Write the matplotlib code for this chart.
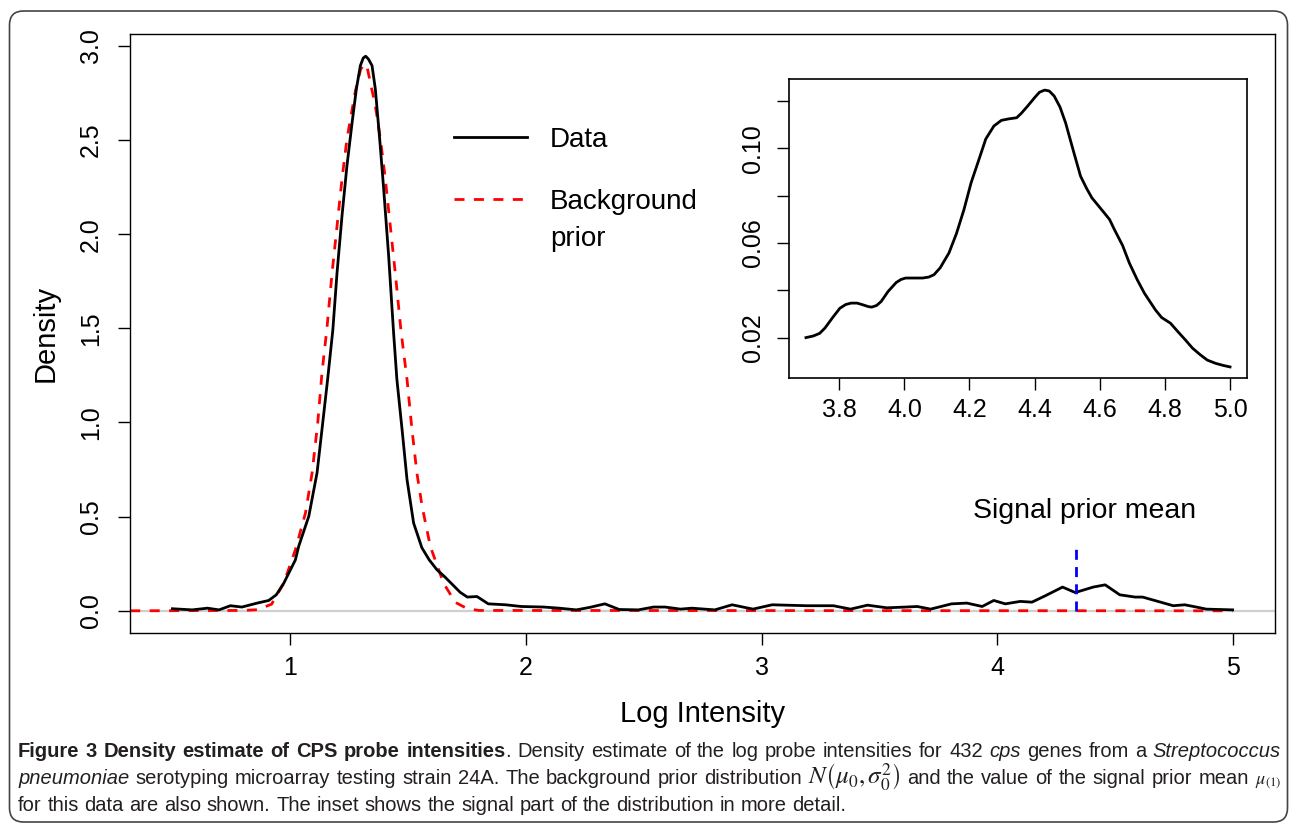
import numpy as np
import matplotlib
matplotlib.use('Agg')
import matplotlib.pyplot as plt
from matplotlib.patches import FancyBboxPatch
from matplotlib.transforms import IdentityTransform

plt.rcParams['font.family'] = ['Liberation Sans', 'DejaVu Sans']
plt.rcParams['mathtext.fontset'] = 'stix'

# kernel density of log probe intensities
dens_x = [0.499, 0.583, 0.648, 0.697, 0.745, 0.794, 0.859, 0.908, 0.940, 0.972,
          0.989, 1.021, 1.035, 1.078, 1.113, 1.134, 1.158, 1.180, 1.198, 1.219,
          1.240, 1.262, 1.280, 1.297, 1.309, 1.3195, 1.331, 1.3465, 1.3605, 1.379,
          1.396, 1.417, 1.438, 1.452, 1.474, 1.495, 1.523, 1.558, 1.589, 1.622,
          1.654, 1.721, 1.751, 1.792, 1.840, 1.914, 1.979, 2.076, 2.141, 2.214,
          2.270, 2.335, 2.396, 2.477, 2.542, 2.591, 2.656, 2.704, 2.802, 2.875,
          2.964, 3.045, 3.191, 3.305, 3.378, 3.450, 3.532, 3.613, 3.661, 3.718,
          3.807, 3.872, 3.937, 3.986, 4.035, 4.099, 4.148, 4.205, 4.278, 4.332,
          4.408, 4.459, 4.521, 4.586, 4.618, 4.683, 4.748, 4.797, 4.854, 4.888,
          5.000]
dens_y = [0.011, 0.005, 0.014, 0.005, 0.027, 0.020, 0.041, 0.055, 0.085, 0.147,
          0.190, 0.270, 0.342, 0.502, 0.732, 0.963, 1.229, 1.490, 1.796, 2.097,
          2.363, 2.594, 2.771, 2.895, 2.935, 2.945, 2.930, 2.895, 2.771, 2.505,
          2.239, 1.885, 1.477, 1.229, 0.963, 0.697, 0.466, 0.335, 0.271, 0.218,
          0.182, 0.098, 0.073, 0.076, 0.037, 0.032, 0.023, 0.020, 0.014, 0.005,
          0.018, 0.037, 0.007, 0.005, 0.020, 0.020, 0.009, 0.014, 0.005, 0.032,
          0.009, 0.032, 0.027, 0.027, 0.009, 0.030, 0.016, 0.020, 0.023, 0.009,
          0.037, 0.041, 0.023, 0.055, 0.037, 0.050, 0.046, 0.080, 0.126, 0.097,
          0.126, 0.138, 0.085, 0.073, 0.073, 0.050, 0.027, 0.032, 0.018, 0.009,
          0.005]

# background prior N(mu0, sigma0^2)
prior_x = [0.32, 0.80, 0.86, 0.92, 0.972, 1.021, 1.064, 1.092, 1.116, 1.134,
           1.155, 1.177, 1.198, 1.219, 1.240, 1.255, 1.276, 1.298, 1.314, 1.326,
           1.339, 1.3605, 1.382, 1.403, 1.424, 1.445, 1.470, 1.495, 1.516, 1.537,
           1.559, 1.594, 1.650, 1.700, 1.750, 1.800, 5.00]
prior_y = [0.000, 0.002, 0.006, 0.035, 0.147, 0.324, 0.520, 0.732, 0.998, 1.264,
           1.500, 1.796, 2.044, 2.293, 2.505, 2.612, 2.760, 2.875, 2.904, 2.885,
           2.807, 2.683, 2.505, 2.293, 2.044, 1.796, 1.480, 1.229, 0.963, 0.732,
           0.555, 0.342, 0.147, 0.045, 0.012, 0.002, 0.000]

signal_mean = 4.334
signal_line_top = 0.35

# inset: signal part of the distribution
inset_x = [3.698, 3.721, 3.740, 3.756, 3.780, 3.802, 3.820, 3.837, 3.855, 3.872,
           3.890, 3.900, 3.915, 3.929, 3.950, 3.975, 3.990, 4.004, 4.030, 4.056,
           4.075, 4.091, 4.110, 4.137, 4.160, 4.183, 4.205, 4.229, 4.250, 4.275,
           4.298, 4.320, 4.345, 4.360, 4.379, 4.400, 4.415, 4.431, 4.445, 4.460,
           4.478, 4.495, 4.520, 4.541, 4.560, 4.576, 4.610, 4.630, 4.645, 4.670,
           4.691, 4.715, 4.737, 4.771, 4.790, 4.817, 4.840, 4.863, 4.885, 4.909,
           4.930, 4.956, 4.980, 5.000]
inset_y = [0.0200, 0.0207, 0.0218, 0.0240, 0.0285, 0.0324, 0.0340, 0.0346, 0.0346, 0.0339,
           0.0331, 0.0329, 0.0336, 0.0353, 0.0395, 0.0433, 0.0446, 0.0452, 0.0452, 0.0452,
           0.0456, 0.0466, 0.0495, 0.0558, 0.0640, 0.0741, 0.0855, 0.0953, 0.1040, 0.1095,
           0.1119, 0.1125, 0.1130, 0.1150, 0.1180, 0.1215, 0.1238, 0.1247, 0.1243, 0.1222,
           0.1175, 0.1109, 0.0985, 0.0883, 0.0830, 0.0791, 0.0734, 0.0700, 0.0657, 0.0590,
           0.0515, 0.0445, 0.0388, 0.0317, 0.0285, 0.0261, 0.0225, 0.0190, 0.0155, 0.0127,
           0.0105, 0.0091, 0.0082, 0.0076]

main_xticks = [1, 2, 3, 4, 5]
main_yticks = [0.0, 0.5, 1.0, 1.5, 2.0, 2.5, 3.0]
inset_xticks = [3.8, 4.0, 4.2, 4.4, 4.6, 4.8, 5.0]
inset_yticks = [0.02, 0.04, 0.06, 0.08, 0.10, 0.12]
inset_ylabels = ['0.02', '', '0.06', '', '0.10', '']

W, H = 1290, 830
fig = plt.figure(figsize=(W / 100, H / 100), dpi=100)

def px_axes(l, t, r, b):
    return fig.add_axes([l / W, 1 - b / H, (r - l) / W, (b - t) / H])

# ── main plot ──────────────────────────────────────────
ax = px_axes(130, 34, 1275, 633)
ax.axhline(0, color='#cfcfcf', lw=1.6, zorder=1)
ax.plot(dens_x, dens_y, color='black', lw=2.0, label='Data', zorder=3,
        solid_joinstyle='round')
ax.plot(prior_x, prior_y, color='#ff0000', lw=2.0, ls=(0, (3.6, 3.4)),
        label='Background', zorder=2)
ax.plot([signal_mean, signal_mean], [0, signal_line_top], color='#0000ff',
        lw=2.0, ls=(0, (3.6, 2.6)), zorder=4)
ax.text(4.37, 0.53, 'Signal prior mean', ha='center', va='center', fontsize=20.5)

xs = dens_x[0], dens_x[-1]
ax.set_xlim(xs[0] - 0.04 * (xs[1] - xs[0]), xs[1] + 0.04 * (xs[1] - xs[0]))
ax.set_ylim(-0.04 * max(dens_y), max(dens_y) * 1.04)
ax.set_xticks(main_xticks)
ax.set_yticks(main_yticks)
ax.set_yticklabels([f'{v:.1f}' for v in main_yticks], rotation=90, va='center')
ax.tick_params(direction='out', length=8.6, width=1.0, labelsize=18)
ax.tick_params(axis='x', pad=8)
ax.tick_params(axis='y', pad=11)
ax.set_xlabel('Log Intensity', fontsize=21, labelpad=14)
ax.set_ylabel('Density', fontsize=21, labelpad=14)
for s in ax.spines.values():
    s.set_linewidth(1.0)

leg = ax.legend(loc='upper left', bbox_to_anchor=(0.283, 0.845), frameon=False,
                fontsize=20, handlelength=2.63, handletextpad=0.83,
                labelspacing=1.3, borderpad=0, borderaxespad=0)

# ── inset ──────────────────────────────────────────────
ins = px_axes(789, 79, 1247, 378)
ins.plot(inset_x, inset_y, color='black', lw=2.0, solid_joinstyle='round')
ix = inset_x[0], inset_x[-1]
iy = min(inset_y), max(inset_y)
ins.set_xlim(ix[0] - 0.04 * (ix[1] - ix[0]), ix[1] + 0.04 * (ix[1] - ix[0]))
ins.set_ylim(iy[0] - 0.04 * (iy[1] - iy[0]), iy[1] + 0.04 * (iy[1] - iy[0]))
ins.set_xticks(inset_xticks)
ins.set_xticklabels([f'{v:.1f}' for v in inset_xticks])
ins.set_yticks(inset_yticks)
ins.set_yticklabels(inset_ylabels, rotation=90, va='center')
ins.tick_params(direction='out', length=8.6, width=1.0, labelsize=18)
ins.tick_params(axis='x', pad=6)
ins.tick_params(axis='y', pad=9)
for s in ins.spines.values():
    s.set_linewidth(1.2)

# ── caption box ────────────────────────────────────────
box = FancyBboxPatch((9.5, 8), 1278, 811, boxstyle='round,pad=0,rounding_size=14',
                     transform=IdentityTransform(), fc='none', ec='#444444', lw=1.2)
fig.patches.append(box)

CAP = dict(family=['Liberation Sans Narrow', 'Liberation Sans'], color='#231f20')
STY = {'n': {}, 'b': dict(fontweight='bold'), 'i': dict(style='italic'),
       'm': dict(fontsize=18), 'ms': dict(fontsize=13)}
cap_size = 14.5

cap_lines = [
    [("Figure 3 Density estimate of CPS probe intensities", 'b'),
     (". Density estimate of the log probe intensities for 432 ", 'n'),
     ("cps", 'i'), (" genes from a ", 'n'), ("Streptococcus", 'i')],
    [("pneumoniae", 'i'),
     (" serotyping microarray testing strain 24A. The background prior distribution ", 'n'),
     (r"$N\left(\mu_0,\sigma_0^2\right)$", 'm'),
     (" and the value of the signal prior mean ", 'n'), (r"$\mu_{(1)}$", 'ms')],
    [("for this data are also shown. The inset shows the signal part of the "
      "distribution in more detail.", 'n')],
]
cap_base = [757, 784, 811]
cap_left, cap_right = 18, 1281

fig.canvas.draw()
renderer = fig.canvas.get_renderer()

# second line of the legend label, kept under "Background"
bg = leg.get_texts()[1]
bb = bg.get_window_extent(renderer)
fig.text(bb.x0 / W, (bb.y0 - 37) / H, 'prior', fontsize=20, ha='left', va='bottom')

def split_boxes(segs):
    boxes, new = [], True
    for text, st in segs:
        for i, p in enumerate(text.split(' ')):
            if i > 0:
                new = True
            if p == '':
                continue
            if new or not boxes:
                boxes.append([])
                new = False
            boxes[-1].append((p, st))
    return boxes

def make_text(s, st, x, y):
    kw = dict(CAP)
    kw['fontsize'] = cap_size
    kw.update(STY[st])
    return fig.text(x / W, 1 - y / H, s, va='baseline', ha='left', **kw)

tmp = make_text('x x', 'n', 0, 0)
w2 = tmp.get_window_extent(renderer).width
tmp.remove()
tmp = make_text('xx', 'n', 0, 0)
space_w = w2 - tmp.get_window_extent(renderer).width
tmp.remove()

for li, segs in enumerate(cap_lines):
    boxes = split_boxes(segs)
    arts = []
    for b in boxes:
        arts.append([make_text(s, st, 0, cap_base[li]) for s, st in b])
    widths = [[a.get_window_extent(renderer).width for a in row] for row in arts]
    total = sum(sum(r) for r in widths)
    if li < len(cap_lines) - 1:
        gap = (cap_right - cap_left - total) / (len(boxes) - 1)
    else:
        gap = space_w
    x = cap_left
    for row, wr in zip(arts, widths):
        for a, w in zip(row, wr):
            a.set_x(x / W)
            x += w
        x += gap

fig.savefig('out.png', dpi=100)
